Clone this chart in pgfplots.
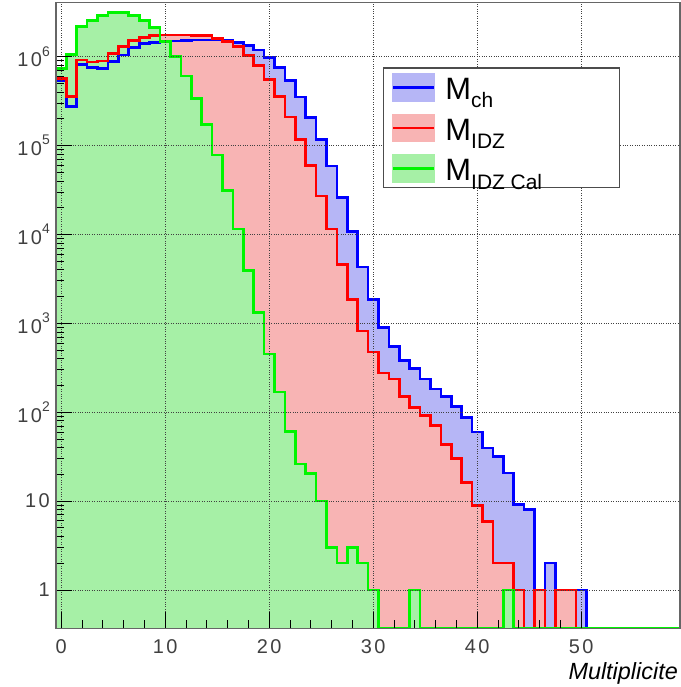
\documentclass[border=0pt]{standalone}
\usepackage{fontspec}
\setmainfont{Liberation Sans}
\newfontfamily\tickfont[LetterSpace=12]{Liberation Sans}
\usepackage{pgfplots}
\usepackage{pgfplotstable}
\pgfplotsset{compat=1.18}
\definecolor{hblue}{RGB}{0,0,255}
\definecolor{hred}{RGB}{255,0,0}
\definecolor{hgreen}{RGB}{0,245,0}
\definecolor{fblue}{RGB}{182,182,246}
\definecolor{fred}{RGB}{248,180,180}
\definecolor{fgreen}{RGB}{166,240,166}
\newcommand{\sub}[1]{\raisebox{-8.5bp}{\fontsize{21}{21}\selectfont #1}}
\newcommand{\lt}[1]{\raisebox{-4.7bp}{\makebox[166bp][l]{\fontsize{31}{34}\selectfont #1}}}
\newcommand{\pw}[1]{10\raisebox{10.5bp}{\fontsize{14}{14}\selectfont #1}}
% bin left edge, content (0 bins written at the axis floor 0.37)
\pgfplotstableread{
x y
-0.5 0.37
-0.5 5.3e5
0.5 2.74e5
1.5 8.1e5
2.5 7.5e5
3.5 7.3e5
4.5 8.8e5
5.5 1.04e6
6.5 1.26e6
7.5 1.41e6
8.5 1.45e6
9.5 1.5e6
10.5 1.5e6
11.5 1.52e6
12.5 1.53e6
13.5 1.54e6
14.5 1.54e6
15.5 1.53e6
16.5 1.44e6
17.5 1.34e6
18.5 1.19e6
19.5 9.8e5
20.5 7.5e5
21.5 5.37e5
22.5 3.5e5
23.5 2.08e5
24.5 1.16e5
25.5 5.9e4
26.5 2.6e4
27.5 1.08e4
28.5 4290
29.5 1840
30.5 900
31.5 548
32.5 382
33.5 308
34.5 236
35.5 182
36.5 150
37.5 116
38.5 87
39.5 60
40.5 39.5
41.5 31.8
42.5 20.7
43.5 9.2
44.5 8
45.5 1
46.5 2
47.5 1
48.5 1
49.5 1
50.5 0.37
}\mch
\pgfplotstableread{
x y
-0.5 0.37
-0.5 5.7e5
0.5 3.55e5
1.5 9.2e5
2.5 8.7e5
3.5 8.9e5
4.5 1.09e6
5.5 1.3e6
6.5 1.51e6
7.5 1.65e6
8.5 1.72e6
9.5 1.75e6
10.5 1.75e6
11.5 1.75e6
12.5 1.74e6
13.5 1.72e6
14.5 1.61e6
15.5 1.48e6
16.5 1.29e6
17.5 1.03e6
18.5 8.0e5
19.5 5.5e5
20.5 3.55e5
21.5 2.1e5
22.5 1.17e5
23.5 6.0e4
24.5 2.7e4
25.5 1.15e4
26.5 4550
27.5 1840
28.5 822
29.5 474
30.5 275
31.5 236
32.5 150
33.5 113
34.5 92
35.5 71
36.5 43
37.5 30
38.5 16.2
39.5 8.9
40.5 5.9
41.5 2
42.5 2
43.5 1
44.5 0.37
45.5 1
46.5 0.37
47.5 1
48.5 1
49.5 0.37
}\midz
\pgfplotstableread{
x y
-0.5 0.37
-0.5 7.4e5
0.5 1.06e6
1.5 2.17e6
2.5 2.54e6
3.5 2.9e6
4.5 3.13e6
5.5 3.13e6
6.5 2.92e6
7.5 2.54e6
8.5 2.12e6
9.5 1.47e6
10.5 1.0e6
11.5 6.07e5
12.5 3.4e5
13.5 1.71e5
14.5 7.85e4
15.5 3.11e4
16.5 1.15e4
17.5 3930
18.5 1320
19.5 450
20.5 168
21.5 60.7
22.5 26.1
23.5 20.3
24.5 10
25.5 3
26.5 2
27.5 3
28.5 2
29.5 1
30.5 0.37
33.5 1
34.5 0.37
42.5 1
43.5 0.37
59.5 0.37
}\mcal
\begin{document}
\begin{tikzpicture}
\path[use as bounding box] (-56bp,-58.7bp) rectangle (625bp,628.3bp);
\begin{axis}[
  at={(0,0)}, anchor=south west,
  width=624bp, height=625.6bp, scale only axis,
  xmin=-0.5, xmax=59.5, ymin=0.37, ymax=4.04e6,
  ymode=log,
  axis on top,
  axis line style={black!60, line width=1.3bp},
  xtick={0,10,20,30,40,50},
  xticklabels={0,10,20,30,40,50},
  minor x tick num=4,
  ytick={1,10,100,1000,10000,100000,1000000},
  yticklabels={1,10,\pw{2},\pw{3},\pw{4},\pw{5},\pw{6}},
  tick align=inside,
  xtick pos=left, ytick pos=left,
  major tick length=16bp, minor tick length=8bp,
  tick style={black, line width=0.7bp},
  grid=major,
  major grid style={dotted, black!75, line width=0.7bp},
  ticklabel style={font=\tickfont\fontsize{20}{24}\selectfont, text=black!75},
  xticklabel style={inner sep=0pt, yshift=-11.5bp},
  yticklabel style={inner sep=0pt, xshift=-6bp},
  xlabel={\itshape Multiplicite},
  xlabel style={at={(rel axis cs:1,0)}, anchor=north east, inner sep=0pt, yshift=-34bp, xshift=-2bp, font=\fontsize{23.5}{26}\selectfont},
  legend style={at={(0.5245,0.8967)}, anchor=north west, draw=black!70, line width=1.2bp, fill=white, inner xsep=8bp, inner ysep=5bp, row sep=12bp, nodes={inner sep=0bp}},
  legend cell align=left,
  every axis plot/.append style={line width=2.6bp, const plot mark left},
]
% fills first
\addplot[draw=none, fill=fblue, forget plot] table {\mch};
\addplot[draw=none, fill=fred, forget plot] table {\midz};
\addplot[draw=none, fill=fgreen, forget plot] table {\mcal};
% outlines on top
\addplot[draw=hblue, fill=none,
  legend image code/.code={\fill[fblue] (0bp,-13bp) rectangle (41bp,13bp); \draw[hblue, line width=2.6bp] (0bp,0bp) -- (41bp,0bp); \path (51bp,0bp);}]
  table {\mch};
\addlegendentry{\lt{M\sub{ch}}}
\addplot[draw=hred, fill=none,
  legend image code/.code={\fill[fred] (0bp,-13bp) rectangle (41bp,13bp); \draw[hred, line width=2.6bp] (0bp,0bp) -- (41bp,0bp); \path (51bp,0bp);}]
  table {\midz};
\addlegendentry{\lt{M\sub{IDZ}}}
\addplot[draw=hgreen, fill=none,
  legend image code/.code={\fill[fgreen] (0bp,-13bp) rectangle (41bp,13bp); \draw[hgreen, line width=2.6bp] (0bp,0bp) -- (41bp,0bp); \path (51bp,0bp);}]
  table {\mcal};
\addlegendentry{\lt{M\sub{IDZ Cal}}}
\end{axis}
\end{tikzpicture}
\end{document}
